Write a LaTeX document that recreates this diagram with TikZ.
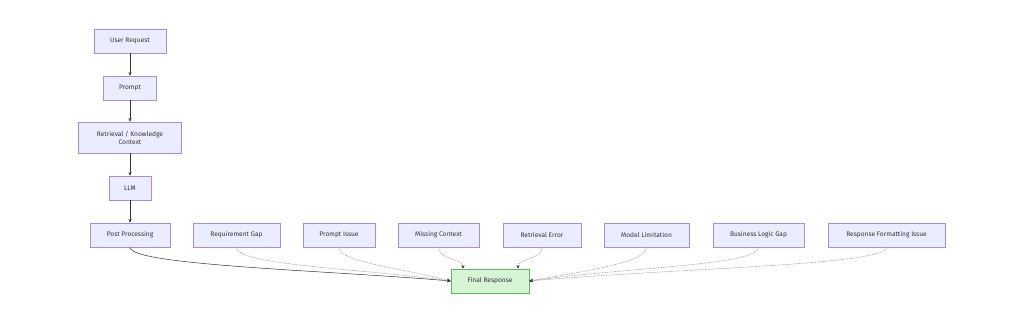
\documentclass[tikz,border=0pt]{standalone}
\usepackage{fontspec}
\setmainfont{Fira Sans}
\usetikzlibrary{arrows.meta}
\definecolor{boxfill}{HTML}{ECECFF}
\definecolor{boxline}{HTML}{A88DE6}
\definecolor{endfill}{HTML}{D5F5D5}
\definecolor{endline}{HTML}{5DB85D}
\definecolor{txt}{HTML}{333333}
\begin{document}
\begin{tikzpicture}[x=1pt,y=-1pt,
  every node/.style={font=\fontsize{6.6}{8}\selectfont,text=txt},
  stage/.style={draw=boxline,fill=boxfill,line width=.7pt,minimum height=24pt,inner sep=2pt,align=center},
  final/.style={stage,draw=endline,fill=endfill},
  flow/.style={draw=txt,line width=.5pt,-{Stealth[length=3.5pt,width=3.2pt,color=txt]}},
  cause/.style={flow,draw=gray!80,line width=.6pt,dash pattern=on .8pt off .8pt}]
\useasboundingbox (0,0) rectangle (1024,336);
% main chain
\node[stage,minimum width=72pt] (req) at (130,41) {User Request};
\node[stage,minimum width=53pt] (prm) at (130,88) {Prompt};
\node[stage,minimum width=103pt,minimum height=31pt] (ret) at (130,137.5) {Retrieval / Knowledge\\Context};
\node[stage,minimum width=42pt] (llm) at (130,188) {LLM};
\node[stage,minimum width=80pt] (pp) at (130,235) {Post Processing};
% causes
\node[stage,minimum width=87pt] (gap) at (236.5,235) {Requirement Gap};
\node[stage,minimum width=72pt] (pis) at (339,235) {Prompt Issue};
\node[stage,minimum width=81pt] (mis) at (438.5,235) {Missing Context};
\node[stage,minimum width=78pt] (rer) at (542,235) {Retrieval Error};
\node[stage,minimum width=85pt] (mod) at (646.5,235) {Model Limitation};
\node[stage,minimum width=91pt] (biz) at (758.5,235) {Business Logic Gap};
\node[stage,minimum width=117pt] (fmt) at (886.5,235) {Response Formatting Issue};
\node[final,minimum width=78pt] (fin) at (490,281) {Final Response};
\draw[flow] (req) -- (prm);
\draw[flow] (prm) -- (ret);
\draw[flow] (ret) -- (llm);
\draw[flow] (llm) -- (pp);
\draw[flow] (pp.south) to[out=-90,in=175,out distance=18pt,in distance=120pt] (fin.west);
\draw[cause] (gap.south) to[out=-90,in=172,out distance=18pt,in distance=90pt] (fin.west);
\draw[cause] (pis.south) to[out=-90,in=165,out distance=15pt,in distance=50pt] (fin.west);
\draw[cause] (mis.south) to[out=-90,in=90,out distance=12pt,in distance=10pt] ([xshift=-27pt]fin.north);
\draw[cause] (rer.south) to[out=-90,in=90,out distance=12pt,in distance=10pt] ([xshift=28pt]fin.north);
\draw[cause] (mod.south) to[out=-90,in=10,out distance=15pt,in distance=60pt] (fin.east);
\draw[cause] (biz.south) to[out=-90,in=8,out distance=18pt,in distance=100pt] (fin.east);
\draw[cause] (fmt.south) to[out=-90,in=5,out distance=18pt,in distance=150pt] (fin.east);
\end{tikzpicture}
\end{document}
